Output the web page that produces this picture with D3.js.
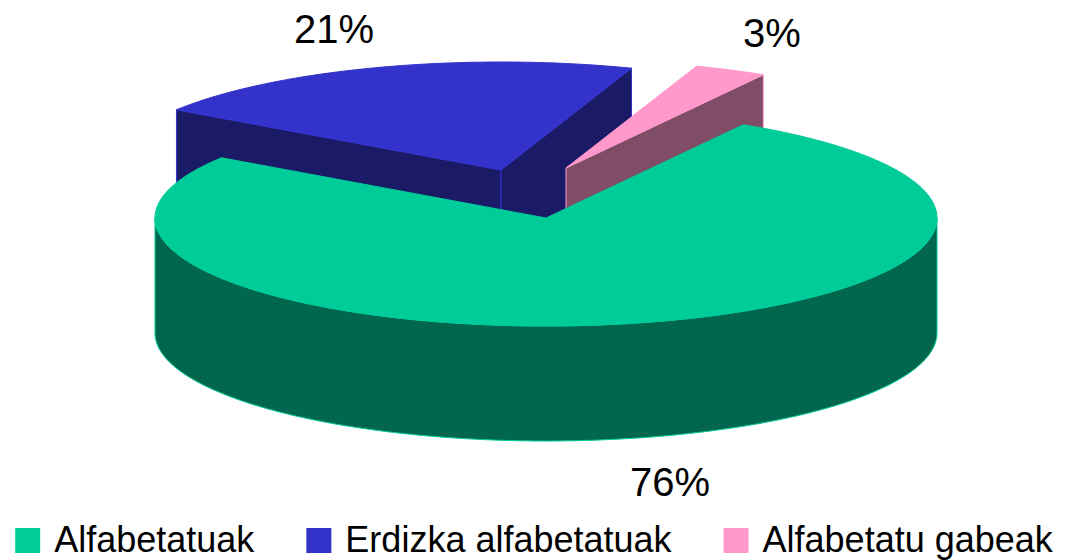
<!DOCTYPE html>
<html>
<head>
<meta charset="utf-8">
<script src="https://cdn.jsdelivr.net/npm/d3@7"></script>
<style>
    html, body { margin: 0; padding: 0; background: #fff; }
    svg { display: block; font-family: "Liberation Sans", Arial, sans-serif; }
</style>
</head>
<body>
<svg id="chart"></svg>
<script>
// data
const categories = ['Alfabetatuak', 'Erdizka alfabetatuak', 'Alfabetatu gabeak'];
const values = [76, 21, 3];
const valueLabels = ['76%', '21%', '3%'];
const colors = ['#00cc99', '#3333cc', '#ff99cc'];

class Pie3D {
    constructor (config, data) {
        this.config = {
            parent: config.parent,
            width: config.width || 1068,
            height: config.height || 560,
            cx: config.cx, cy: config.cy,
            rx: config.rx, ry: config.ry,
            depth: config.depth,
            startAngle: config.startAngle || 0,
            explode: config.explode,
            labelPos: config.labelPos
        };
        this.data = data;
        this.init();
    }

    init() {
        let self = this;
        self.svg = d3.select(self.config.parent)
            .attr('width', self.config.width)
            .attr('height', self.config.height);
        self.chart = self.svg.append('g');
        self.labels = self.svg.append('g');
        self.legend = self.svg.append('g');

        self.pie = d3.pie()
            .sort(null)
            .value(d => d.value)
            .startAngle(self.config.startAngle)
            .endAngle(self.config.startAngle + 2 * Math.PI);
    }

    // point on the rim, a = angle clockwise from 12 o'clock
    pt(a, off, z) {
        const c = this.config;
        return [c.cx + off[0] + c.rx * Math.sin(a), c.cy + off[1] - c.ry * Math.cos(a) + z];
    }

    arcPts(a0, a1, off, z) {
        const n = Math.max(2, Math.ceil(Math.abs(a1 - a0) * 40));
        return d3.range(n + 1).map(i => this.pt(a0 + (a1 - a0) * i / n, off, z));
    }

    update() {
        let self = this;
        self.arcs = self.pie(self.data);
        self.render();
    }

    render() {
        let self = this;
        const c = self.config;
        const line = d3.line();
        const shade = col => d3.rgb(col).darker(1.0).formatHex();

        // back slices first
        const order = self.arcs
            .map((a, i) => ({ arc: a, i: i }))
            .sort((p, q) => {
                const mp = (p.arc.startAngle + p.arc.endAngle) / 2;
                const mq = (q.arc.startAngle + q.arc.endAngle) / 2;
                return Math.cos(mq) - Math.cos(mp);
            });

        order.forEach(({ arc, i }) => {
            const off = c.explode[i];
            const a0 = arc.startAngle, a1 = arc.endAngle;
            const col = arc.data.color;
            const dark = d3.rgb(col);
            const side = d3.rgb(dark.r * 0.5, dark.g * 0.5, dark.b * 0.5).formatHex();
            const ctr = [c.cx + off[0], c.cy + off[1]];
            const g = self.chart.append('g').attr('class', 'slice');
            const faces = [];

            // start radial face
            if (Math.sin(a0) < 0) {
                const p = self.pt(a0, off, 0), q = self.pt(a0, off, c.depth);
                faces.push([ctr, p, q, [ctr[0], ctr[1] + c.depth]]);
            }
            // end radial face
            if (Math.sin(a1) > 0) {
                const p = self.pt(a1, off, 0), q = self.pt(a1, off, c.depth);
                faces.push([ctr, p, q, [ctr[0], ctr[1] + c.depth]]);
            }
            // outer wall, front half only
            for (let k = -1; k <= 1; k++) {
                const lo = Math.max(a0, Math.PI / 2 + 2 * Math.PI * k);
                const hi = Math.min(a1, 3 * Math.PI / 2 + 2 * Math.PI * k);
                if (hi > lo) {
                    const top = self.arcPts(lo, hi, off, 0);
                    const bot = self.arcPts(hi, lo, off, c.depth);
                    faces.push(top.concat(bot));
                }
            }

            g.selectAll('.side')
                .data(faces)
                .join('path')
                .attr('class', 'side')
                .attr('d', d => line(d) + 'Z')
                .attr('fill', side)
                .attr('stroke', col)
                .attr('stroke-width', 1)
                .attr('stroke-linejoin', 'round');

            const top = [ctr].concat(self.arcPts(a0, a1, off, 0));
            g.append('path')
                .attr('class', 'top')
                .attr('d', line(top) + 'Z')
                .attr('fill', col)
                .attr('stroke', col)
                .attr('stroke-width', 1);
        });

        self.labels.selectAll('text')
            .data(self.arcs)
            .join('text')
            .attr('x', (d, i) => c.labelPos[i][0])
            .attr('y', (d, i) => c.labelPos[i][1])
            .attr('text-anchor', 'middle')
            .attr('font-size', '40px')
            .attr('fill', '#000')
            .text(d => d.data.label);

        // legend
        const fs = 36, box = 25, gap = 14, itemGap = 52;
        const items = self.legend.selectAll('g')
            .data(self.data)
            .join('g');
        items.append('rect')
            .attr('width', box)
            .attr('height', box)
            .attr('y', 528)
            .attr('fill', d => d.color);
        items.append('text')
            .attr('x', box + gap)
            .attr('y', 552)
            .attr('font-size', fs + 'px')
            .attr('fill', '#000')
            .text(d => d.name);
        let widths = [];
        items.each(function () {
            widths.push(box + gap + d3.select(this).select('text').node().getComputedTextLength());
        });
        const total = d3.sum(widths) + itemGap * (widths.length - 1);
        let x = (c.width - total) / 2;
        items.each(function (d, i) {
            d3.select(this).attr('transform', `translate(${x},0)`);
            x += widths[i] + itemGap;
        });
    }
}

const data = categories.map((name, i) => ({
    name: name, value: values[i], label: valueLabels[i], color: colors[i]
}));

const chart = new Pie3D({
    parent: '#chart',
    width: 1068, height: 560,
    cx: 546, cy: 218,
    rx: 391, ry: 108,
    depth: 115,
    startAngle: 30.3 * Math.PI / 180,
    explode: [[0, 0], [-45, -48], [20, -50]],
    labelPos: [[670, 496], [334, 43], [772, 47]]
}, data);
chart.update();
</script>
</body>
</html>
